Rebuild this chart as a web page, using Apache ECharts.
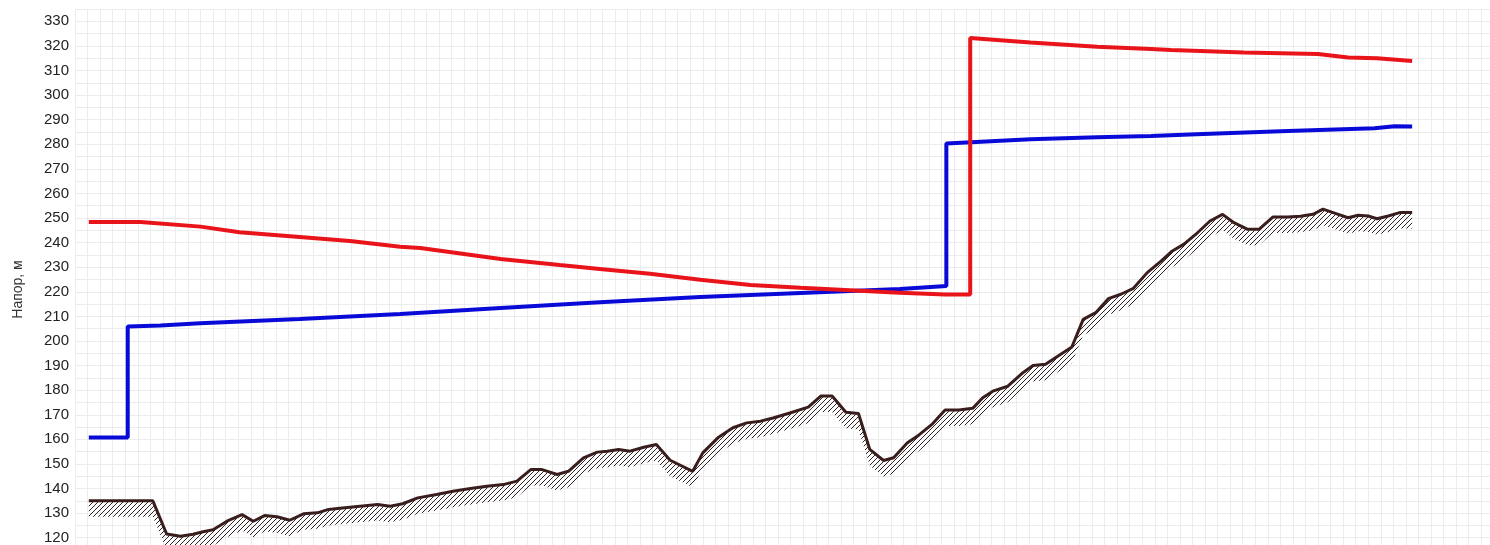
<!DOCTYPE html>
<html>
<head>
<meta charset="utf-8">
<script src="https://cdn.jsdelivr.net/npm/echarts@6/dist/echarts.min.js"></script>
<style>
html,body{margin:0;padding:0;background:#fff;}
#chart{width:1490px;height:545px;}
</style>
</head>
<body>
<div id="chart"></div>
<script>
// distance (grid cells) and head (m)
const groundX = [1.1,6.2,7.3,8.4,9.4,10.2,11.0,12.1,13.3,14.2,15.1,16.1,17.1,18.2,19.3,20.2,21.1,22.7,24.1,25.1,26.1,27.3,28.8,30.1,31.5,32.8,34.1,35.2,36.3,37.2,38.4,39.3,40.5,41.6,42.4,43.3,44.2,45.3,46.3,47.4,49.2,50.0,51.2,52.4,53.5,54.6,55.6,57.0,58.4,59.4,60.3,61.4,62.4,63.3,64.4,65.2,66.3,67.2,68.3,69.3,70.4,71.5,72.3,73.1,74.3,75.5,76.3,77.3,78.3,79.4,80.3,81.3,82.3,83.3,84.3,85.4,86.5,87.4,88.3,89.4,90.4,91.4,92.3,93.4,94.3,95.4,96.6,97.6,98.6,99.4,100.2,101.4,102.2,103.0,103.7,104.6,105.5,106.5];
const groundY = [135,135,121.5,120.6,121.4,122.4,123.2,126.7,129.4,126.7,129,128.5,127.1,129.7,130.1,131.5,132,132.8,133.5,132.8,133.8,136.2,137.6,138.9,140,140.9,141.6,143,147.7,147.7,145.7,147,152.5,154.8,155.2,155.9,155.2,156.8,157.9,151.5,147,154.5,160.6,164.7,166.7,167.4,168.7,170.8,173.1,177.6,177.6,171,170.5,155.9,151.4,152.5,158.6,161.7,166.3,171.9,171.9,172.6,176.9,179.6,181.6,187.1,190,190.5,193.9,197.6,208.8,211.5,217.2,219,221.4,227.8,232.5,236.6,239.3,244,248.8,251.5,248.1,245.4,245.4,250.4,250.4,250.7,251.5,253.6,252.2,250.1,251.1,250.8,249.7,250.8,252.2,252.2];

const redX = [1.1,5.2,10.0,13.1,17.9,21.9,25.9,27.5,33.9,38.6,41.8,45.8,49.8,53.8,57.8,62.5,65.7,69.3,71.3,71.3,76.1,81.4,85.7,87.3,93.1,99.0,101.4,103.7,106.5];
const redY = [248.4,248.4,246.5,244.2,242.3,240.7,238.3,237.8,233.3,230.9,229.3,227.3,224.9,222.8,221.6,220.4,219.6,218.9,218.9,323.2,321.4,319.6,318.7,318.3,317.3,316.7,315.3,315.0,313.9];

const blueX = [1.1,4.2,4.2,6.8,9.96,17.9,25.9,33.9,41.8,49.8,57.8,65.7,69.4,69.4,76.1,81.4,85.7,89.3,96.6,103.5,105.1,106.5];
const blueY = [160.7,160.7,205.9,206.3,207.2,208.9,211.0,213.4,215.7,217.9,219.5,221.1,222.4,280.3,282.0,282.8,283.4,284.1,285.4,286.5,287.3,287.2];

const yTicks = {min:115, max:335, step:5, labelStep:10};
const yName = 'Напор, м';

function pairs(xs, ys){ return xs.map((x,i)=>[x, ys[i]]); }
const groundData = pairs(groundX, groundY);

// hatch pattern
const pc = document.createElement('canvas');
pc.width = 5; pc.height = 5;
const pctx = pc.getContext('2d');
pctx.strokeStyle = '#2e2424';
pctx.lineWidth = 1.0;
pctx.beginPath();
pctx.moveTo(0,5); pctx.lineTo(5,0);
pctx.moveTo(-2.5,2.5); pctx.lineTo(2.5,-2.5);
pctx.moveTo(2.5,7.5); pctx.lineTo(7.5,2.5);
pctx.stroke();

const chart = echarts.init(document.getElementById('chart'), null, {renderer:'canvas'});
chart.setOption({
  animation:false,
  backgroundColor:'#fff',
  grid:{left:75, right:0, top:9, height:541, outerBoundsMode:'none', containLabel:false},
  xAxis:{type:'value', min:0, max:112.7, interval:1,
    axisLine:{show:false}, axisTick:{show:false}, axisLabel:{show:false},
    splitLine:{show:true, lineStyle:{color:'#ececec', width:1}}},
  yAxis:{type:'value', min:yTicks.min, max:yTicks.max, interval:yTicks.step,
    name:yName, nameLocation:'middle', nameRotate:90, nameGap:50,
    nameTextStyle:{fontFamily:'Liberation Sans, Arial', fontSize:14, color:'#333', padding:[0,20,0,0]},
    axisLine:{show:false}, axisTick:{show:false},
    axisLabel:{margin:6, fontFamily:'Liberation Sans, Arial', fontSize:15, color:'#222',
      formatter:v=> (v % yTicks.labelStep === 0 ? String(v) : '')},
    splitLine:{show:true, lineStyle:{color:'#ececec', width:1}}},
  series:[
    {type:'custom', z:1, silent:true, data:[0],
      renderItem:function(params, api){
        const top = groundData.map(p=>{const c=api.coord(p); return [c[0], c[1]+1];});
        const bot = groundData.map(p=>{const c=api.coord(p); return [c[0], c[1]+16];}).reverse();
        return {type:'polygon', shape:{points:top.concat(bot)},
          style:{fill:{image:pc, repeat:'repeat'}, stroke:null}};
      }},
    {type:'line', z:3, data:groundData, showSymbol:false, lineStyle:{color:'#3a1e1e', width:3}},
    {type:'line', z:4, data:pairs(blueX, blueY), showSymbol:false, lineStyle:{color:'#0a0ad8', width:4}},
    {type:'line', z:5, data:pairs(redX, redY), showSymbol:false, lineStyle:{color:'#e8141a', width:4}}
  ]
});
</script>
</body>
</html>
